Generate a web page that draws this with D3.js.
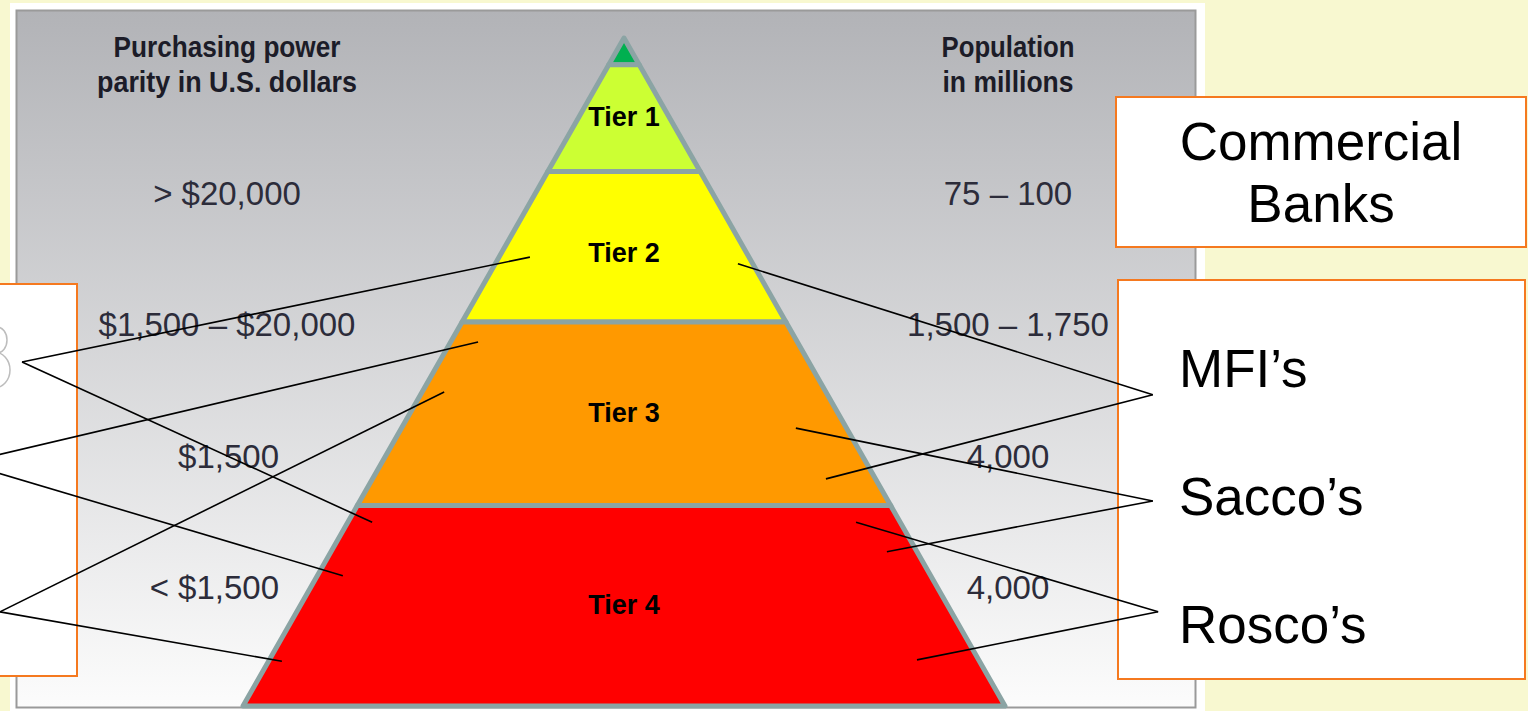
<!DOCTYPE html>
<html lang="en">
<head>
<meta charset="UTF-8">
<title>Pyramid</title>
<script src="https://d3js.org/d3.v7.min.js"></script>
<style>
    body, html {
        margin: 0;
        padding: 0;
        background-color: #f8f8d0;
        overflow: hidden;
    }
    .head {
        font-family: 'Liberation Sans', Arial, sans-serif;
        font-weight: bold;
        font-size: 30px;
        fill: #1c1c28;
    }
    .value {
        font-family: 'Liberation Sans', Arial, sans-serif;
        font-size: 33px;
        fill: #2c2c3a;
    }
    .tier {
        font-family: 'Liberation Sans', Arial, sans-serif;
        font-weight: bold;
        font-size: 27px;
    }
    .boxText {
        font-family: 'Liberation Sans', Arial, sans-serif;
        font-size: 53px;
    }
</style>
</head>
<body>
<script>
'use strict'

// tiers, top to bottom
const tiers = ['Tier 1', 'Tier 2', 'Tier 3', 'Tier 4']
const tierColors = ['#ccff33', '#ffff00', '#ff9900', '#ff0000']
// share of pyramid height where each band ends (first one is the green cap)
const tierBreaks = [0.04, 0.2, 0.425, 0.7, 1]

const pppLabels = ['> $20,000', '$1,500 \u2013 $20,000', '$1,500', '< $1,500']
const popLabels = ['75 \u2013 100', '1,500 \u2013 1,750', '4,000', '4,000']

const institutions = ['MFI\u2019s', 'Sacco\u2019s', 'Rosco\u2019s']

// connector lines in pyramid units: u = across (-1..1 at base), v = down (0 apex .. 1 base)
const rightAnchors = [[1.388, 0.534], [1.388, 0.693], [1.402, 0.859]]
const rightTargets = [[[0.299, 0.338], [0.530, 0.660]],
                      [[0.451, 0.584], [0.690, 0.769]],
                      [[0.609, 0.725], [0.769, 0.931]]]
const leftAnchors = [[-1.58, 0.485], [-1.732, 0.636], [-1.638, 0.859]]
const leftTargets = [[[-0.247, 0.328], [-0.661, 0.725]],
                     [[-0.383, 0.455], [-0.738, 0.805]],
                     [[-0.472, 0.530], [-0.898, 0.933]]]

const W = 1528, H = 711

const svg = d3.select('body').append('svg')
    .attr('width', W)
    .attr('height', H)

const defs = svg.append('defs')
const grad = defs.append('linearGradient')
    .attr('id', 'panelGrad')
    .attr('x1', 0).attr('y1', 0).attr('x2', 0).attr('y2', 1)
grad.append('stop').attr('offset', '0%').attr('stop-color', '#b2b3b7')
grad.append('stop').attr('offset', '100%').attr('stop-color', '#fcfcfc')

// backdrop
svg.append('rect').attr('width', W).attr('height', H).attr('fill', '#f8f8d0')
svg.append('rect')
    .attr('x', 10).attr('y', 3).attr('width', 1195).attr('height', 720)
    .attr('fill', '#ffffff')
svg.append('rect')
    .attr('x', 16.5).attr('y', 10.5).attr('width', 1179).attr('height', 697)
    .attr('fill', 'url(#panelGrad)')
    .attr('stroke', '#9a9a9a')
    .attr('stroke-width', 2)

// scales
const x = d3.scaleLinear().domain([-1, 1]).range([243, 1005])
const y = d3.scaleLinear().domain([0, 1]).range([38, 706])
const row = d3.scalePoint().domain(d3.range(pppLabels.length)).range([193, 587])

// headers (condensed look via textLength)
function header(cx, lines) {
    const t = svg.append('text').attr('class', 'head').attr('text-anchor', 'middle')
    lines.forEach((l, i) => {
        t.append('tspan')
            .attr('x', cx)
            .attr('y', 57 + i * 35)
            .attr('textLength', l[1])
            .attr('lengthAdjust', 'spacingAndGlyphs')
            .text(l[0])
    })
}
header(227, [['Purchasing power', 227], ['parity in U.S. dollars', 260]])
header(1008, [['Population', 133], ['in millions', 131]])

svg.selectAll('.ppp')
    .data(pppLabels)
    .enter()
    .append('text')
    .attr('class', 'value ppp')
    .attr('x', (d, i) => i < 2 ? 227 : 279)
    .attr('y', (d, i) => row(i))
    .attr('dy', '0.36em')
    .attr('text-anchor', (d, i) => i < 2 ? 'middle' : 'end')
    .text(d => d)

svg.selectAll('.pop')
    .data(popLabels)
    .enter()
    .append('text')
    .attr('class', 'value pop')
    .attr('x', 1008)
    .attr('y', (d, i) => row(i))
    .attr('dy', '0.36em')
    .attr('text-anchor', 'middle')
    .text(d => d)

// pyramid bands
const bands = tierBreaks.map((b, i) => ({
    top: i === 0 ? 0 : tierBreaks[i - 1],
    bottom: b,
    color: i === 0 ? '#00b050' : tierColors[i - 1],
    label: i === 0 ? null : tiers[i - 1]
}))

const line = d3.line()

svg.selectAll('.band')
    .data(bands)
    .enter()
    .append('path')
    .attr('class', 'band')
    .attr('d', d => line([
        [x(-d.top), y(d.top)], [x(d.top), y(d.top)],
        [x(d.bottom), y(d.bottom)], [x(-d.bottom), y(d.bottom)]
    ]) + 'Z')
    .attr('fill', d => d.color)
    .attr('stroke', '#8ba4a4')
    .attr('stroke-width', 5)
    .attr('stroke-linejoin', 'round')

svg.selectAll('.tier')
    .data(bands.filter(d => d.label))
    .enter()
    .append('text')
    .attr('class', 'tier')
    .attr('x', x(0))
    .attr('y', d => y((d.top + d.bottom) / 2))
    .attr('dy', (d, i) => i === 1 ? '0.55em' : '0.3em')
    .attr('text-anchor', 'middle')
    .text(d => d.label)

// boxes
svg.append('rect')
    .attr('x', -40).attr('y', 284).attr('width', 117).attr('height', 392)
    .attr('fill', '#ffffff').attr('stroke', '#f5791f').attr('stroke-width', 2)
// faint clipped outline glyph at the left edge
const glyph = svg.append('g').attr('fill', 'none').attr('stroke', '#bdbdbd').attr('stroke-width', 1.5)
glyph.append('ellipse').attr('cx', -3).attr('cy', 340).attr('rx', 10).attr('ry', 13)
glyph.append('ellipse').attr('cx', -6).attr('cy', 370).attr('rx', 16).attr('ry', 18)

svg.append('rect')
    .attr('x', 1116).attr('y', 97).attr('width', 410).attr('height', 150)
    .attr('fill', '#ffffff').attr('stroke', '#f5791f').attr('stroke-width', 2)
const cb = svg.append('text').attr('class', 'boxText').attr('text-anchor', 'middle')
cb.append('tspan').attr('x', 1321).attr('y', 160).text('Commercial')
cb.append('tspan').attr('x', 1321).attr('y', 222).text('Banks')

svg.append('rect')
    .attr('x', 1118).attr('y', 280).attr('width', 407).attr('height', 399)
    .attr('fill', '#ffffff').attr('stroke', '#f5791f').attr('stroke-width', 2)

const instRow = d3.scalePoint().domain(d3.range(institutions.length)).range([387, 643])
svg.selectAll('.inst')
    .data(institutions)
    .enter()
    .append('text')
    .attr('class', 'boxText inst')
    .attr('x', 1179)
    .attr('y', (d, i) => instRow(i))
    .text(d => d)

// connector lines
const links = []
rightAnchors.forEach((a, i) => rightTargets[i].forEach(t => links.push([a, t])))
leftAnchors.forEach((a, i) => leftTargets[i].forEach(t => links.push([a, t])))

svg.selectAll('.link')
    .data(links)
    .enter()
    .append('line')
    .attr('class', 'link')
    .attr('x1', d => x(d[0][0]))
    .attr('y1', d => y(d[0][1]))
    .attr('x2', d => x(d[1][0]))
    .attr('y2', d => y(d[1][1]))
    .attr('stroke', '#000')
    .attr('stroke-width', 1.6)
</script>
</body>
</html>
